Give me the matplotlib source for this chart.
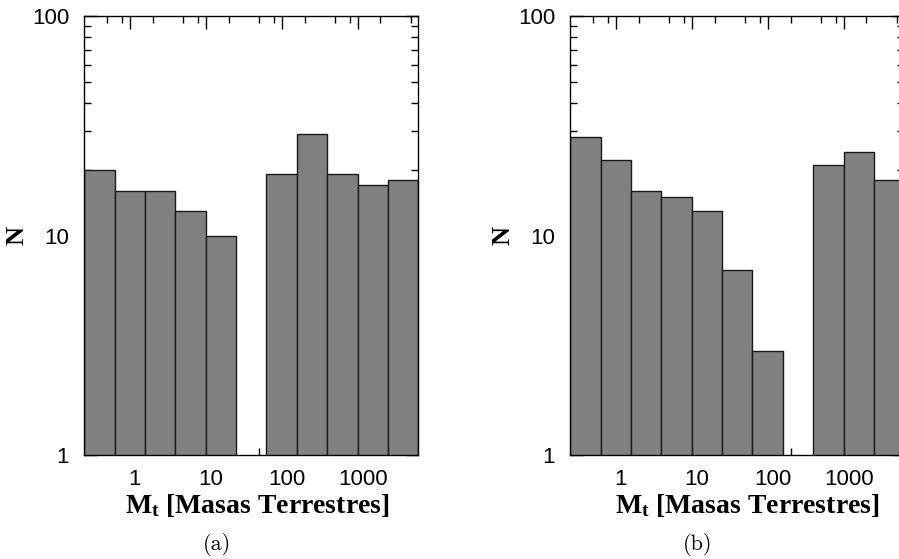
import matplotlib
matplotlib.use('Agg')
import matplotlib.pyplot as plt
import matplotlib.transforms as mtransforms
import numpy as np

plt.rcParams['mathtext.fontset'] = 'custom'
plt.rcParams['mathtext.rm'] = 'Liberation Serif:bold'
plt.rcParams['mathtext.bf'] = 'Liberation Serif:bold'
plt.rcParams['mathtext.it'] = 'Liberation Serif:bold'

# bin edges in log10(M) (Masas Terrestres)
log_edges = [-0.6, -0.2, 0.2, 0.6, 1.0, 1.4, 1.8, 2.2, 2.6, 3.0, 3.4, 3.8]

# counts per bin, panel (a) and panel (b)
counts_a = [20, 16, 16, 13, 10, 0, 19, 29, 19, 17, 18]
counts_b = [28, 22, 16, 15, 13, 7, 3, 0, 21, 24, 18]

xtick_vals = [1, 10, 100, 1000]
xtick_labels = ['1', '10', '100', '1000']
xminor_vals = [0.5, 0.8, 2, 5, 8, 20, 50, 80, 200, 500, 800, 2000, 5000]
ytick_vals = [1, 10, 100]
ytick_labels = ['1', '10', '100']
yminor_vals = [2, 3, 4, 5, 6, 7, 8, 9, 20, 30, 40, 50, 60, 70, 80, 90]

panel_names = ['(a)', '(b)']

fig = plt.figure(figsize=(8.99, 5.59), dpi=100)
W, H = 899.0, 559.0
ax_a = fig.add_axes([84.3 / W, (H - 455.3) / H, 334 / W, 439.3 / H])
ax_b = fig.add_axes([570.3 / W, (H - 455.3) / H, 334 / W, 439.3 / H])

edges = 10 ** np.array(log_edges)

setup = [(ax_a, counts_a, panel_names[0], 217 / W, 0.517),
         (ax_b, counts_b, panel_names[1], 698 / W, 0.529)]

for ax, counts, name, cx, lx in setup:
    lefts = [edges[i] for i in range(len(counts)) if counts[i] > 0]
    widths = [edges[i + 1] - edges[i] for i in range(len(counts)) if counts[i] > 0]
    heights = [c for c in counts if c > 0]
    ax.bar(lefts, heights, width=widths, align='edge',
           color='#808080', edgecolor='#1a1a1a', linewidth=1.0, zorder=2)
    ax.set_xscale('log')
    ax.set_yscale('log')
    ax.set_xlim(edges[0], edges[-1])
    ax.set_ylim(1, 100)

    ax.set_xticks(xtick_vals)
    ax.set_xticklabels(xtick_labels, fontsize=16, fontfamily='Liberation Sans')
    ax.set_xticks(xminor_vals, minor=True)
    ax.set_xticklabels([], minor=True)
    ax.set_yticks(ytick_vals)
    ax.set_yticklabels(ytick_labels, fontsize=16, fontfamily='Liberation Sans')
    ax.set_yticks(yminor_vals, minor=True)
    ax.set_yticklabels([], minor=True)

    ax.tick_params(which='both', direction='in', top=True, right=True, width=1)
    ax.tick_params(which='major', length=9)
    ax.tick_params(which='minor', length=5)
    ax.tick_params(axis='x', which='major', pad=10)
    ax.tick_params(axis='y', which='major', pad=11)
    for s in ax.spines.values():
        s.set_linewidth(1)
        s.set_zorder(3)

    # labels sit a few pixels right of the ticks in the original
    off = mtransforms.ScaledTranslation(5 / 100, 0, fig.dpi_scale_trans)
    for lab in ax.get_xticklabels():
        lab.set_transform(lab.get_transform() + off)

    ax.set_ylabel('N', fontsize=19, fontfamily='Liberation Serif',
                  fontweight='bold')
    ax.yaxis.set_label_coords(-0.167, 0.5)
    ax.set_xlabel(r'$\mathbf{M_t}$ [Masas Terrestres]', fontsize=20,
                  fontfamily='Liberation Serif', fontweight='bold')
    ax.xaxis.set_label_coords(lx, -0.083)
    fig.text(cx, 1 - 545 / H, name, fontsize=16, fontfamily='cmr10',
             ha='center', va='center')

fig.savefig('out.png', dpi=100)
